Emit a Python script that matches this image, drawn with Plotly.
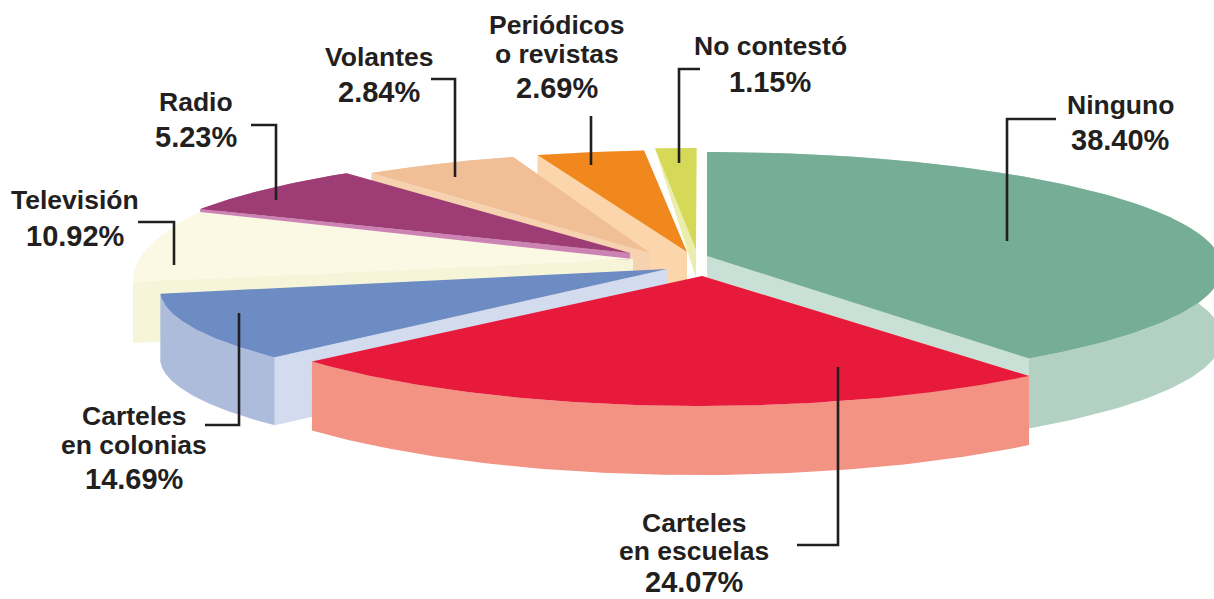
import numpy as np
import plotly.graph_objects as go

# ---- data ----
categories = ["Ninguno", "Carteles en escuelas", "Carteles en colonias", "Televisión",
              "Radio", "Volantes", "Periódicos o revistas", "No contestó"]
values = [38.40, 24.07, 14.69, 10.92, 5.23, 2.84, 2.69, 1.15]
label_lines = [["Ninguno"], ["Carteles", "en escuelas"], ["Carteles", "en colonias"], ["Televisión"],
               ["Radio"], ["Volantes"], ["Periódicos", "o revistas"], ["No contestó"]]

# ---- colours: top face, rim, radial wall ----
top_colors = ["#75AD97", "#E81A3B", "#6C8CC3", "#FBF9E3", "#9E3C75", "#F0BF96", "#F0881E", "#D6D957"]
rim_colors = ["#B2D1C3", "#F39384", "#AEBCDC", "#F6F4D6", "#CC82B4", "#F6D2B0", "#FBD5AB", "#EBEDAC"]
wall_colors = ["#C8E0D6", "#F39384", "#D3DBEF", "#F7F5D9", "#CC82B4", "#F6D2B0", "#FBD5AB", "#EBEDAC"]

# ---- hand-drawn pie styling: ellipse centre, radii, apex, depth and angular distortion per slice ----
ell_x = [707, 700, 675, 640, 640, 655, 687, 697]
ell_y = [268, 276, 290, 282, 271, 279, 268, 266]
rad_x = [515, 515, 515, 507, 515, 515, 515, 515]
rad_y = [116, 130, 107, 141, 119, 127, 118, 118]
apex_x = [707, 702, 667, 633, 630, 650, 687, 696]
apex_y = [256, 276, 269, 259, 253, 253, 252, 250]
depth = [70, 69, 68, 61, 8, 20, 68, 0]
depth_outer = [70, 69, 68, 61, 8, 20, 68, 0]      # wall height at the outer edge
depth_apex = [70, 69, 68, 61, 8, 20, 68, 28]      # wall height at the apex
nudge_start = [0, 2.06, 6.1, -7.78, -15.7, -9.3, -3.0, -0.5]
nudge_end = [3.06, 4.0, -9.8, -17.3, -10.6, -2.1, -0.6, 0.0]
wall_on_end = [True, False, False, False, False, False, False, False]
paint_order = [7, 6, 5, 4, 3, 2, 0, 1]

# ---- label placement ----
label_x = [1120, 694, 134, 75, 196, 379, 557, 770]
label_y = [[105, 140], [523, 551, 582], [416, 445, 479], [200, 236], [102, 137], [57, 92], [25, 54, 88], [46, 82]]
leader_x = [[1056, 1007, 1007], [797, 838, 838], [205, 239, 239], [138, 174, 174],
            [251, 276, 276], [431, 455, 455], [591, 591], [700, 679, 679]]
leader_y = [[119, 119, 241], [545, 545, 367], [425, 425, 313], [222, 222, 265],
            [125, 125, 200], [79, 79, 177], [116, 165], [69, 69, 163]]

TEXT = "#231F20"
FONT = "Liberation Sans"
NAME_SIZE = 26.5
PCT_SIZE = 29

bounds = np.concatenate([[0], np.cumsum(values)]) * 360.0 / 100.0


def poly(fig, xs, ys, color):
    fig.add_trace(go.Scatter(x=xs, y=ys, mode="lines", fill="toself", fillcolor=color,
                             line=dict(width=0, color=color), hoverinfo="skip", showlegend=False))


fig = go.Figure()
for i in paint_order:
    p1 = bounds[i] + nudge_start[i]
    p2 = bounds[i + 1] + nudge_end[i]
    phi = np.radians(np.linspace(p1, p2, 120))
    ax = ell_x[i] + rad_x[i] * np.sin(phi)
    ay = ell_y[i] - rad_y[i] * np.cos(phi)
    # rim
    if depth[i] > 0:
        poly(fig, np.concatenate([ax, ax[::-1]]), np.concatenate([ay, (ay + depth[i])[::-1]]), rim_colors[i])
    # radial wall
    j = -1 if wall_on_end[i] else 0
    poly(fig,
         [apex_x[i], ax[j], ax[j], apex_x[i]],
         [apex_y[i], ay[j], ay[j] + depth_outer[i], apex_y[i] + depth_apex[i]],
         wall_colors[i])
    # top face
    poly(fig, np.concatenate([[apex_x[i]], ax]), np.concatenate([[apex_y[i]], ay]), top_colors[i])

for i in range(len(values)):
    fig.add_trace(go.Scatter(x=leader_x[i], y=leader_y[i], mode="lines",
                             line=dict(color=TEXT, width=2.6), hoverinfo="skip", showlegend=False))
    lines = label_lines[i] + [f"{values[i]:.2f}%"]
    for k, (text, y) in enumerate(zip(lines, label_y[i])):
        size = PCT_SIZE if k == len(lines) - 1 else NAME_SIZE
        fig.add_annotation(x=label_x[i], y=y, text=text, showarrow=False, xanchor="center", yanchor="middle",
                           font=dict(family=FONT, size=size, color=TEXT, weight="bold"))

fig.update_layout(
    width=1214, height=599, margin=dict(l=0, r=0, t=0, b=0),
    paper_bgcolor="white", plot_bgcolor="white", showlegend=False,
    xaxis=dict(range=[0, 1214], visible=False, fixedrange=True),
    yaxis=dict(range=[599, 0], visible=False, fixedrange=True),
)
fig.write_html("out.html", config={"displayModeBar": False},
               post_script="document.body.style.margin='0';document.body.style.overflow='hidden';")
